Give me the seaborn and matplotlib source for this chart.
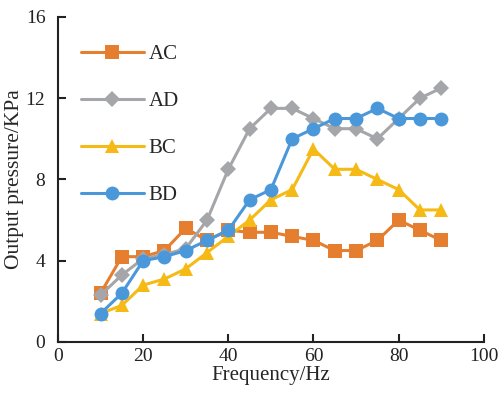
import numpy as np
import pandas as pd
import matplotlib
matplotlib.use("Agg")
import matplotlib.pyplot as plt
from matplotlib.lines import Line2D
import seaborn as sns

# Frequency sweep (Hz) and measured output pressure (KPa) for each channel pair
freq = [10, 15, 20, 25, 30, 35, 40, 45, 50, 55, 60, 65, 70, 75, 80, 85, 90]
ac = [2.4, 4.2, 4.2, 4.5, 5.6, 5.0, 5.5, 5.4, 5.4, 5.2, 5.0, 4.5, 4.5, 5.0, 6.0, 5.5, 5.0]
ad = [2.3, 3.3, 4.1, 4.3, 4.6, 6.0, 8.5, 10.5, 11.5, 11.5, 11.0, 10.5, 10.5, 10.0, 11.0, 12.0, 12.5]
bc = [1.4, 1.8, 2.8, 3.1, 3.6, 4.4, 5.2, 6.0, 7.0, 7.5, 9.5, 8.5, 8.5, 8.0, 7.5, 6.5, 6.5]
bd = [1.4, 2.4, 4.0, 4.2, 4.5, 5.0, 5.5, 7.0, 7.5, 10.0, 10.5, 11.0, 11.0, 11.5, 11.0, 11.0, 11.0]

series_names = ["AC", "AD", "BC", "BD"]
series_values = [ac, ad, bc, bd]
x_ticks = [0, 20, 40, 60, 80, 100]
y_ticks = [0, 4, 8, 12, 16]

df = pd.concat(
    [pd.DataFrame({"freq": freq, "pressure": v, "series": n})
     for n, v in zip(series_names, series_values)],
    ignore_index=True,
)

sns.set_theme(style="ticks")
plt.rcParams["font.family"] = ["Liberation Serif", "DejaVu Serif"]

palette = {"AC": "#E67E30", "AD": "#A5A6AA", "BC": "#F5BA16", "BD": "#4A98DA"}
markers = {"AC": "s", "AD": "D", "BC": "^", "BD": "o"}
msize = {"AC": 10, "AD": 8.5, "BC": 10, "BD": 10}
lw = 2.2

fig = plt.figure(figsize=(5.04, 3.94), dpi=100)
ax = fig.add_axes([0.115, 0.132, 0.845, 0.825])

for name in series_names:
    sub = df[df["series"] == name]
    sns.lineplot(
        data=sub, x="freq", y="pressure", ax=ax,
        color=palette[name], marker=markers[name], markersize=msize[name],
        markeredgewidth=0, linewidth=lw, zorder=3, legend=False,
    )

ax.set_xlim(0, 100)
ax.set_ylim(0, 16)
ax.set_xticks(x_ticks)
ax.set_yticks(y_ticks)
ax.set_xlabel("Frequency/Hz", fontsize=15, labelpad=1)
ax.set_ylabel("Output pressure/KPa", fontsize=15.5, labelpad=1)
ax.tick_params(direction="in", length=6, width=1.5, labelsize=14, colors="#222222")
ax.tick_params(axis="y", pad=9)
ax.tick_params(axis="x", pad=4)
for side in ["top", "right"]:
    ax.spines[side].set_visible(False)
for side in ["left", "bottom"]:
    ax.spines[side].set_linewidth(1.5)
    ax.spines[side].set_color("#222222")

handles = [
    Line2D([], [], color=palette[n], marker=markers[n], markersize=msize[n],
           markeredgewidth=0, linewidth=lw)
    for n in series_names
]
ax.legend(
    handles, series_names, loc="upper left", bbox_to_anchor=(0.02, 0.96),
    frameon=False, fontsize=15, handlelength=3.0, handletextpad=0.25,
    labelspacing=1.32, borderaxespad=0.3,
)

fig.savefig("out.png", dpi=100)
